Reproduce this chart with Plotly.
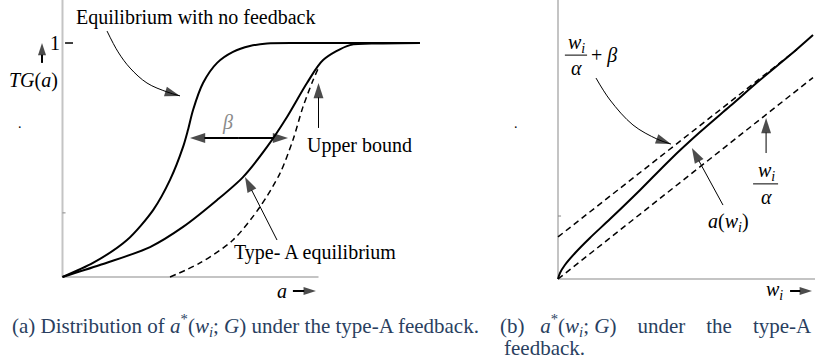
import plotly.graph_objects as go

# ---- panel (a): a on x, TG(a) on y --------------------------------------
no_fb_a = [0.0, 0.119, 0.252, 0.354, 0.420, 0.471, 0.490, 0.510, 0.549, 0.604,
           0.666, 0.732, 0.799, 0.928, 1.396]
no_fb_tg = [0.0, 0.060, 0.158, 0.286, 0.415, 0.556, 0.628, 0.714, 0.829, 0.915,
            0.962, 0.987, 0.998, 1.0, 1.0]

type_a_a = [0.0, 0.146, 0.342, 0.471, 0.604, 0.705, 0.799, 0.877, 0.955, 1.018,
            1.123, 1.240, 1.396]
type_a_tg = [0.0, 0.051, 0.128, 0.214, 0.329, 0.427, 0.556, 0.684, 0.829, 0.927,
             0.991, 0.998, 1.0]

upper_a = [0.420, 0.537, 0.666, 0.771, 0.850, 0.900, 0.939, 0.979, 0.998]
upper_tg = [0.0, 0.060, 0.158, 0.299, 0.444, 0.585, 0.726, 0.842, 0.889]

# ---- panel (b): w_i on x, a on y ----------------------------------------
aw_w = [0.0, 0.008, 0.027, 0.067, 0.125, 0.204, 0.322, 0.439, 0.557, 0.675,
        0.792, 0.910, 1.0]
aw_a = [0.0, 0.024, 0.055, 0.102, 0.161, 0.235, 0.349, 0.467, 0.576, 0.678,
        0.780, 0.878, 0.957]

plus_beta_w = [0.0, 0.937]
plus_beta_a = [0.165, 0.900]
over_alpha_w = [0.0, 1.0]
over_alpha_a = [0.0, 0.79]

FONT = "Liberation Serif, Times New Roman, Nimbus Roman, serif"
LABEL = 20
CAPTION = 21
AXIS_GREY = "#c4c4c4"

fig = go.Figure()


def line(x, y, xa, ya, width=2, dash=None):
    fig.add_trace(go.Scatter(
        x=x, y=y, mode="lines", xaxis=xa, yaxis=ya,
        line={"color": "black", "width": width, "dash": dash,
              "shape": "spline", "smoothing": 0.8},
        hoverinfo="skip", showlegend=False,
    ))


def arrow(x, y, xa, ya, head=16, width=1, spline=False):
    n = len(x)
    fig.add_trace(go.Scatter(
        x=x, y=y, mode="lines+markers", xaxis=xa, yaxis=ya,
        line={"color": "black", "width": width,
              "shape": "spline" if spline else "linear"},
        marker={"symbol": ["circle"] * (n - 1) + ["arrow"],
                "size": [0] * (n - 1) + [head],
                "angleref": "previous", "color": "black",
                "line": {"width": 0}},
        hoverinfo="skip", showlegend=False,
    ))


def label(text, x, y, xref, yref, size=LABEL, color="black"):
    fig.add_annotation(text=text, x=x, y=y, xref=xref, yref=yref,
                       showarrow=False, xanchor="center", yanchor="middle",
                       font={"family": FONT, "size": size, "color": color})


def seg(x0, y0, x1, y1, xref, yref, color=AXIS_GREY, width=2):
    fig.add_shape(type="line", x0=x0, y0=y0, x1=x1, y1=y1, xref=xref, yref=yref,
                  line={"color": color, "width": width}, layer="below")


# panel (a)
seg(0, 0, 0, 1.19, "x", "y")
seg(0, 0, 1.0, 0, "x", "y")
seg(0, 0.274, 0.012, 0.274, "x", "y", color="#888", width=1)
seg(0.01, 1.0, 0.041, 1.0, "x", "y", color="black", width=1.5)

line(no_fb_a, no_fb_tg, "x", "y")
line(type_a_a, type_a_tg, "x", "y")
line(upper_a, upper_tg, "x", "y", width=1.5, dash="6px,4px")

arrow([0.174, 0.217, 0.264, 0.330, 0.408, 0.459],
      [1.051, 0.962, 0.893, 0.829, 0.791, 0.774], "x", "y", spline=True)
arrow([0.689, 0.498], [0.594, 0.594], "x", "y", width=2)
arrow([0.689, 0.881], [0.594, 0.594], "x", "y", width=2)
arrow([1.0, 1.0], [0.637, 0.829], "x", "y")
arrow([0.838, 0.713], [0.158, 0.427], "x", "y")
arrow([-0.080, -0.080], [0.915, 1.0], "x", "y", width=2, head=13)
arrow([0.900, 0.990], [-0.060, -0.060], "x", "y", width=2, head=13)

label("Equilibrium with no feedback", 0.518, 1.111, "x", "y")
label("1", -0.028, 1.0, "x", "y")
label("<i>TG</i>(<i>a</i>)", -0.115, 0.838, "x", "y")
label("<i>β</i>", 0.646, 0.662, "x", "y", color="#8a8a8a")
label("Upper bound", 1.160, 0.560, "x", "y")
label("Type- A equilibrium", 0.985, 0.103, "x", "y")
label("<i>a</i>", 0.858, -0.060, "x", "y")
label(".", -0.165, 0.655, "x", "y", size=14)

# panel (b)
seg(0, 0, 0, 1.1, "x2", "y2")
seg(0, 0, 1.01, 0, "x2", "y2")
seg(0, 0.247, 0.012, 0.247, "x2", "y2", color="#888", width=1)

line(plus_beta_w, plus_beta_a, "x2", "y2", width=1.5, dash="6px,4px")
line(over_alpha_w, over_alpha_a, "x2", "y2", width=1.5, dash="6px,4px")
line(aw_w, aw_a, "x2", "y2")

arrow([0.149, 0.204, 0.294, 0.388, 0.443],
      [0.788, 0.702, 0.604, 0.549, 0.529], "x2", "y2", spline=True)
arrow([0.647, 0.525], [0.290, 0.514], "x2", "y2")
arrow([0.816, 0.816], [0.494, 0.631], "x2", "y2")
arrow([0.910, 0.996], [-0.047, -0.047], "x2", "y2", width=2, head=13)

label("<i>w<sub>i</sub></i>", 0.071, 0.922, "x2", "y2")
seg(0.027, 0.878, 0.114, 0.878, "x2", "y2", color="black", width=1)
label("<i>α</i>", 0.071, 0.827, "x2", "y2")
label("+ <i>β</i>", 0.182, 0.875, "x2", "y2")
label("<i>w<sub>i</sub></i>", 0.816, 0.420, "x2", "y2")
seg(0.765, 0.373, 0.863, 0.373, "x2", "y2", color="black", width=1)
label("<i>α</i>", 0.816, 0.322, "x2", "y2")
label("<i>a</i>(<i>w<sub>i</sub></i>)", 0.667, 0.220, "x2", "y2")
label("<i>w<sub>i</sub></i>", 0.848, -0.047, "x2", "y2")
label(".", -0.165, 0.610, "x2", "y2", size=14)

# captions
star = "<i>a</i><sup>*</sup>(<i>w<sub>i</sub></i>; <i>G</i>)"
nb = "\u00a0"
cap_font = {"family": FONT, "size": CAPTION}
fig.add_annotation(
    text=f"(a) Distribution of {star} under the type-A feedback.",
    x=10 / 815, y=1 - 325 / 360, xref="paper", yref="paper", showarrow=False,
    xanchor="left", yanchor="middle", font=cap_font)
fig.add_annotation(
    text=f"(b){nb*3}{star}{nb*4}under{nb*4}the{nb*4}type-A",
    x=498 / 815, y=1 - 325 / 360, xref="paper", yref="paper", showarrow=False,
    xanchor="left", yanchor="middle", font=cap_font)
fig.add_annotation(
    text="feedback.",
    x=502 / 815, y=1 - 348 / 360, xref="paper", yref="paper", showarrow=False,
    xanchor="left", yanchor="middle", font=cap_font)

fig.update_layout(
    width=815, height=360,
    margin={"l": 0, "r": 0, "t": 0, "b": 0},
    paper_bgcolor="white", plot_bgcolor="white",
    showlegend=False,
    xaxis={"domain": [0, 0.52], "range": [-0.2441, 1.4113], "visible": False},
    yaxis={"domain": [0, 1], "range": [-0.3547, 1.1838], "visible": False},
    xaxis2={"domain": [0.6, 1], "range": [-0.2706, 1.0078], "visible": False,
            "anchor": "y2"},
    yaxis2={"domain": [0, 1], "range": [-0.3176, 1.0941], "visible": False,
            "anchor": "x2"},
)

# the page's default 8px body margin would shift the whole figure
fig.write_html("out.html",
               config={"displayModeBar": False},
               post_script="document.body.style.margin='0';"
                           "document.body.style.overflow='hidden';")
